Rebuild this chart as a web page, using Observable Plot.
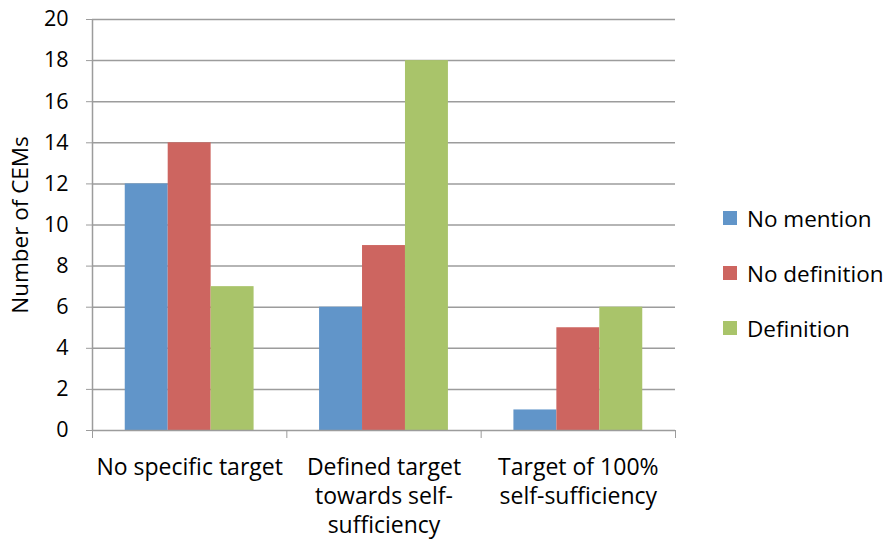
<!DOCTYPE html>
<html>
<head>
<meta charset="utf-8">
<script src="https://cdn.jsdelivr.net/npm/d3@7"></script>
<script src="https://cdn.jsdelivr.net/npm/@observablehq/plot@0.6"></script>
<style>
  body { margin: 0; background: #fff; font-family: "Open Sans", sans-serif; }
  #wrap { position: relative; width: 887px; height: 539px; overflow: hidden; }
  .legend { position: absolute; left: 723px; top: 202px; white-space: nowrap; }
  .item { display: flex; align-items: center; height: 32px; margin-bottom: 23px; font-size: 22.5px; color: #000; }
  .sw { width: 14px; height: 14px; margin-right: 10px; flex: none; }
</style>
</head>
<body>
<div id="wrap"></div>
<script>
const groups = ["No specific target", "Defined target\ntowards self-\nsufficiency", "Target of 100%\nself-sufficiency"];
const seriesNames = ["No mention", "No definition", "Definition"];
const noMention = [12, 6, 1];
const noDefinition = [14, 9, 5];
const definition = [7, 18, 6];
const yTicks = [0, 2, 4, 6, 8, 10, 12, 14, 16, 18, 20];
const colors = ["#6195C9", "#CD6560", "#A9C46A"];

const values = [noMention, noDefinition, definition];
const rows = [];
groups.forEach((g, gi) => {
  seriesNames.forEach((s, si) => {
    rows.push({gi, si, series: s, value: values[si][gi]});
  });
});

const barW = 0.221;
const start = 0.5 - 1.5 * barW;

const chart = Plot.plot({
  width: 887,
  height: 539,
  marginLeft: 92,
  marginRight: 212,
  marginTop: 19,
  marginBottom: 109,
  style: {fontFamily: "'Open Sans', sans-serif", fontSize: "22px", color: "#000", background: "#fff", overflow: "visible"},
  x: {domain: [0, 3]},
  y: {domain: [0, 20]},
  color: {domain: seriesNames, range: colors},
  marks: [
    Plot.ruleY(yTicks.filter(d => d > 0), {stroke: "#9c9c9c", strokeWidth: 1.5}),
    Plot.rectY(rows, {
      x1: d => d.gi + start + d.si * barW,
      x2: d => d.gi + start + (d.si + 1) * barW,
      y: "value",
      fill: "series"
    }),
    Plot.ruleX([0], {stroke: "#9c9c9c", strokeWidth: 1.5}),
    Plot.ruleY([0], {stroke: "#9c9c9c", strokeWidth: 1.5}),
    Plot.axisY({ticks: yTicks, tickSize: 6, tickPadding: 18, stroke: "#9c9c9c", label: null, fontSize: 21.5}),
    Plot.axisX({ticks: [0, 1, 2, 3], tickSize: 8, tickFormat: () => "", stroke: "#9c9c9c", label: null}),
    Plot.axisX({ticks: [0.5, 1.5, 2.5], tickSize: 0, tickPadding: 24, tickFormat: d => groups[Math.round(d - 0.5)], lineHeight: 1.26, lineAnchor: "top", label: null, fontSize: 23}),
    Plot.text(["Number of CEMs"], {frameAnchor: "left", textAnchor: "middle", rotate: -90, dx: -72, fontSize: 22.5})
  ]
});

const wrap = document.getElementById("wrap");
wrap.appendChild(chart);

const legend = document.createElement("div");
legend.className = "legend";
seriesNames.forEach((s, i) => {
  const it = document.createElement("div");
  it.className = "item";
  const sw = document.createElement("div");
  sw.className = "sw";
  sw.style.background = colors[i];
  const t = document.createElement("span");
  t.textContent = s;
  it.appendChild(sw);
  it.appendChild(t);
  legend.appendChild(it);
});
wrap.appendChild(legend);
</script>
</body>
</html>
